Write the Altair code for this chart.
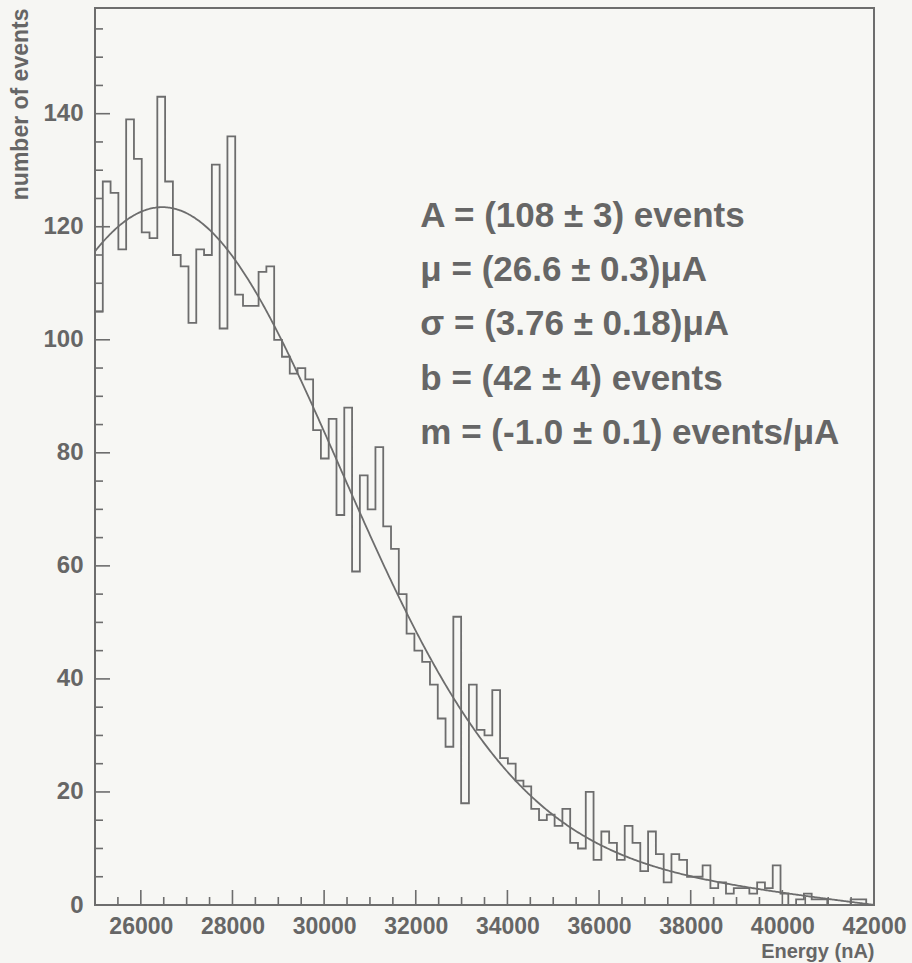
import altair as alt
import pandas as pd

# Histogram: 100 bins of 170 nA between 25000 and 42000 nA
x_min, x_max = 25000, 42000
bin_width = 170
counts = [
    105, 128, 126, 116, 139, 132, 119, 118, 143, 128,
    115, 113, 103, 116, 115, 131, 102, 136, 108, 106,
    106, 112, 113, 100, 97, 94, 95, 93, 84, 79,
    86, 69, 88, 59, 76, 70, 81, 67, 63, 55,
    48, 45, 43, 39, 33, 28, 51, 18, 39, 31,
    30, 38, 26, 25, 22, 21, 17, 15, 16, 14,
    17, 11, 10, 20, 8, 13, 11, 8, 14, 11,
    6, 13, 9, 4, 9, 8, 5, 5, 7, 3,
    4, 2, 3, 3, 2, 4, 3, 7, 2, 0,
    1, 2, 1, 1, 0, 0, 0, 1, 1, 0,
]

# Fit: Gaussian plus straight line, energies in uA
fit_A, fit_mu, fit_sigma = 108, 26.6, 3.76
fit_b, fit_m = 42, -1.0
fit_lines = [
    "A = (108 \u00b1 3) events",
    "\u03bc = (26.6 \u00b1 0.3)\u03bcA",
    "\u03c3 = (3.76 \u00b1 0.18)\u03bcA",
    "b = (42 \u00b1 4) events",
    "m = (-1.0 \u00b1 0.1) events/\u03bcA",
]
fit_line_y = [120.0, 110.4, 100.9, 91.1, 81.6]
fit_text_x = 32100

# Axis ticks and labels
x_labels = list(range(26000, 42001, 2000))
x_minor = [v for v in range(25500, 42000, 500) if v % 2000 != 0]
y_labels = list(range(0, 141, 20))
y_minor = [v for v in range(5, 158, 5) if v % 20 != 0]
y_top = 158.7

INK = "#6d6d6d"
TEXT = "#666666"
FONT = "Liberation Sans"
W, H = 779, 897

edges = [x_min + i * bin_width for i in range(len(counts))] + [x_max]
hist_df = pd.DataFrame({
    "energy": edges,
    "events": counts + [counts[-1]],
    "order": list(range(len(edges))),
})

xs = alt.Scale(domain=[x_min, x_max], nice=False, zero=False)
ys = alt.Scale(domain=[0, y_top], nice=False, zero=True)

hist = alt.Chart(hist_df).mark_line(
    interpolate="step-after", color=INK, strokeWidth=1.8
).encode(
    x=alt.X("energy:Q", scale=xs, axis=alt.Axis(
        values=x_labels, format="d", ticks=False, tickSize=0, domain=False,
        grid=False, labelFont=FONT, labelFontSize=23, labelFontWeight="bold",
        labelColor=TEXT, labelPadding=10, labelFlush=False,
        title="Energy (nA)", titleFont=FONT, titleFontSize=20,
        titleFontWeight="bold", titleColor=TEXT, titleAnchor="end",
        titleAlign="right", titleBaseline="alphabetic", titleX=W, titleY=52,
    )),
    y=alt.Y("events:Q", scale=ys, axis=alt.Axis(
        values=y_labels, format="d", ticks=False, tickSize=0, domain=False,
        grid=False, labelFont=FONT, labelFontSize=24, labelFontWeight="bold",
        labelColor=TEXT, labelPadding=12, labelFlush=False,
        title="number of events", titleFont=FONT, titleFontSize=23,
        titleFontWeight="bold", titleColor=TEXT, titleAngle=270,
        titleAnchor="end", titleAlign="right", titleBaseline="alphabetic",
        titleX=-68, titleY=0,
    )),
    order="order:Q",
)

fit_curve = alt.Chart(alt.sequence(x_min, x_max + 1, 25, as_="energy")).transform_calculate(
    events=(
        f"{fit_A} * exp(-pow(datum.energy / 1000 - {fit_mu}, 2) / (2 * {fit_sigma} * {fit_sigma}))"
        f" + {fit_b} + ({fit_m}) * datum.energy / 1000"
    )
).mark_line(color=INK, strokeWidth=1.8).encode(
    x=alt.X("energy:Q", scale=xs),
    y=alt.Y("events:Q", scale=ys),
)

# Inward-pointing tick marks
def x_ticks(values, length):
    return alt.Chart(pd.DataFrame({"energy": values})).mark_rule(
        color=INK, strokeWidth=1.6
    ).encode(
        x=alt.X("energy:Q", scale=xs),
        y=alt.value(H), y2=alt.value(H - length),
    )

def y_ticks(values, length):
    return alt.Chart(pd.DataFrame({"events": values})).mark_rule(
        color=INK, strokeWidth=1.6
    ).encode(
        y=alt.Y("events:Q", scale=ys),
        x=alt.value(0), x2=alt.value(length),
    )

fit_text = alt.Chart(pd.DataFrame({
    "label": fit_lines, "events": fit_line_y, "energy": [fit_text_x] * len(fit_lines)
})).mark_text(
    align="left", baseline="alphabetic", font=FONT, fontSize=35,
    fontWeight="bold", color=TEXT,
).encode(
    x=alt.X("energy:Q", scale=xs),
    y=alt.Y("events:Q", scale=ys),
    text="label:N",
)

chart = alt.layer(
    hist, fit_curve,
    x_ticks(x_labels, 15), x_ticks(x_minor, 8),
    y_ticks(y_labels, 15), y_ticks(y_minor, 8),
    fit_text,
).properties(
    width=W, height=H,
    autosize=alt.AutoSizeParams(type="none"),
    padding={"left": 95, "top": 8, "right": 38, "bottom": 58},
    background="#f6f6f3",
).configure_view(
    stroke=INK, strokeWidth=2, fill="#f7f7f4",
)

chart.save("out.html", embed_options={"renderer": "svg", "actions": False})
